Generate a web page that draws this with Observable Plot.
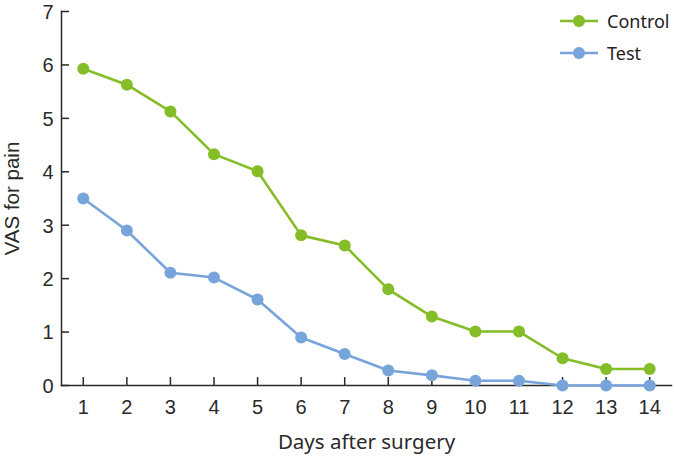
<!DOCTYPE html>
<html>
<head>
<meta charset="utf-8">
<script src="https://cdn.jsdelivr.net/npm/d3@7"></script>
<script src="https://cdn.jsdelivr.net/npm/@observablehq/plot@0.6"></script>
<style>
  body { margin: 0; background: #fff; }
  #wrap { position: relative; width: 674px; height: 456px; }
  #wrap svg [aria-label="y-axis tick label"], #wrap svg [aria-label="x-axis tick label"] { font-family: "Liberation Sans", Arial, sans-serif; font-size: 20px; }
  #legend { position: absolute; left: 560px; top: 5px; font: 18px "Noto Sans", sans-serif; color: #222; }
  #legend .row { display: flex; align-items: center; height: 32px; }
  #legend svg { margin-right: 9px; }
</style>
</head>
<body>
<div id="wrap"><div id="legend"></div></div>
<script>
const days = [1,2,3,4,5,6,7,8,9,10,11,12,13,14];
const control = [5.93,5.63,5.13,4.33,4.01,2.81,2.62,1.8,1.29,1.01,1.01,0.51,0.31,0.31];
const test = [3.5,2.9,2.11,2.02,1.61,0.9,0.59,0.28,0.19,0.09,0.09,0,0,0];
const seriesNames = ["Control","Test"];
const seriesColors = ["#84bd27","#77a4db"];
const yTicks = [0,1,2,3,4,5,6,7];

const rows = [];
days.forEach((d,i) => rows.push({day: d, value: control[i], series: seriesNames[0]}));
days.forEach((d,i) => rows.push({day: d, value: test[i], series: seriesNames[1]}));

const axisColor = "#2a2a2a";
const W = 674, H = 456, mL = 61, mR = 3, mT = 11, mB = 71, tick = 8;
const chart = Plot.plot({
  width: W,
  height: H,
  marginLeft: mL,
  marginRight: mR,
  marginTop: mT,
  marginBottom: mB,
  style: {color: axisColor, background: "white"},
  x: {domain: [0.5, 14.5]},
  y: {domain: [0, 7]},
  color: {domain: seriesNames, range: seriesColors},
  marks: [
    Plot.axisX({ticks: days, tickSize: 0, tickPadding: 14, tickFormat: d => String(d), label: null, fontSize: 20}),
    Plot.axisY({ticks: yTicks, tickSize: 0, tickPadding: 8, dy: 1, tickFormat: d => String(d), label: null, fontSize: 20}),
    Plot.tickX(days, {x: d => d, insetTop: (H - mT - mB) - tick, stroke: axisColor, strokeWidth: 1.5}),
    Plot.tickY(yTicks, {y: d => d, insetRight: (W - mL - mR) - tick, stroke: axisColor, strokeWidth: 1.5}),
    Plot.frame({anchor: "left", stroke: axisColor, strokeWidth: 1.5}),
    Plot.frame({anchor: "bottom", stroke: axisColor, strokeWidth: 1.5}),
    Plot.line(rows, {x: "day", y: "value", z: "series", stroke: "series", strokeWidth: 2.6}),
    Plot.dot(rows, {x: "day", y: "value", fill: "series", r: 6}),
    Plot.text(["VAS for pain"], {frameAnchor: "left", text: d => d, rotate: -90, dx: -49, textAnchor: "middle", fill: axisColor, fontSize: 20.5, fontFamily: "'Liberation Sans', Arial, sans-serif"}),
    Plot.text(["Days after surgery"], {frameAnchor: "bottom", text: d => d, dy: 63.5, textAnchor: "middle", fill: axisColor, fontSize: 20.5, fontFamily: "'Noto Sans', sans-serif"})
  ]
});
document.getElementById("wrap").prepend(chart);

const legend = document.getElementById("legend");
seriesNames.forEach((name, i) => {
  const row = document.createElement("div");
  row.className = "row";
  row.innerHTML = `<svg width="38" height="14"><line x1="0" x2="38" y1="7" y2="7" stroke="${seriesColors[i]}" stroke-width="2.6"/><circle cx="19" cy="7" r="6" fill="${seriesColors[i]}"/></svg><span>${name}</span>`;
  legend.appendChild(row);
});
</script>
</body>
</html>
